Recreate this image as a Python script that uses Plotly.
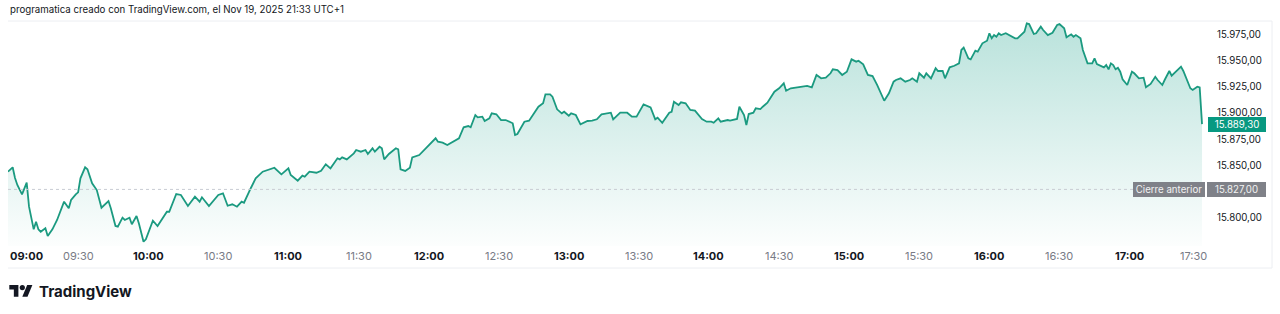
import plotly.graph_objects as go
import pandas as pd

# ---------------- data ----------------
session_date = "2025-11-19"
session_open = "09:00"
minutes_from_open = [
    0, 2, 3, 4, 6, 8, 9, 11, 12, 13, 14, 16, 17, 19, 21, 23, 24, 26, 27, 29,
    30, 31, 33, 34, 36, 38, 40, 43, 44, 46, 47, 49, 50, 52, 53, 55, 56, 58, 59, 62,
    64, 68, 69, 72, 74, 77, 80, 82, 83, 86, 90, 92, 94, 96, 98, 100, 101, 104, 106, 109,
    111, 113, 114, 117, 120, 121, 124, 126, 127, 129, 132, 134, 136, 138, 141, 142, 143, 145, 148, 149,
    151, 153, 154, 156, 157, 159, 160, 161, 163, 166, 167, 168, 170, 172, 173, 176, 178, 181, 183, 184,
    186, 188, 191, 193, 195, 197, 198, 200, 201, 203, 204, 206, 207, 209, 211, 213, 216, 217, 218, 221,
    223, 227, 229, 230, 232, 233, 235, 237, 238, 240, 241, 243, 245, 248, 250, 252, 254, 258, 259, 262,
    265, 267, 269, 272, 275, 277, 278, 280, 283, 284, 285, 287, 288, 290, 292, 294, 297, 299, 301, 302,
    304, 305, 308, 309, 312, 313, 315, 316, 317, 319, 320, 322, 323, 325, 328, 330, 332, 333, 335, 337,
    339, 342, 344, 346, 348, 350, 352, 353, 355, 357, 359, 361, 363, 364, 366, 368, 370, 372, 375, 377,
    379, 380, 382, 384, 386, 387, 389, 390, 392, 393, 395, 397, 398, 400, 401, 403, 405, 407, 408, 409,
    411, 412, 414, 415, 417, 419, 420, 421, 422, 423, 424, 425, 427, 429, 431, 432, 435, 436, 437, 439,
    440, 442, 443, 445, 447, 449, 450, 452, 453, 455, 456, 457, 459, 460, 462, 464, 465, 466, 468, 469,
    470, 471, 472, 473, 474, 475, 476, 477, 479, 480, 481, 482, 484, 486, 487, 489, 491, 492, 494, 495,
    497, 498, 500, 502, 503, 506, 507, 509, 510, 511,
]
prices = [
    15843.9, 15848.1, 15837.9, 15831.2, 15822.3, 15833.4, 15810.5, 15788.9, 15796.2, 15788.9,
    15786.6, 15789.9, 15782.5, 15788.9, 15797.8, 15810.5, 15815.3, 15809.0, 15816.9, 15822.3,
    15824.2, 15837.6, 15848.1, 15846.2, 15832.8, 15826.4, 15809.5, 15815.9, 15809.0, 15792.1,
    15791.4, 15800.0, 15797.8, 15800.0, 15793.7, 15801.6, 15794.7, 15777.1, 15779.4, 15797.1,
    15792.1, 15805.7, 15805.7, 15822.6, 15821.7, 15811.2, 15820.0, 15815.3, 15819.5, 15811.2,
    15821.7, 15823.3, 15811.4, 15812.8, 15810.5, 15815.3, 15814.3, 15828.6, 15837.6, 15843.9,
    15845.5, 15847.1, 15847.7, 15841.4, 15847.1, 15840.7, 15835.3, 15840.1, 15839.1, 15843.9,
    15842.9, 15844.8, 15851.0, 15847.1, 15856.7, 15855.7, 15857.6, 15855.7, 15861.4, 15864.6,
    15863.0, 15864.6, 15860.8, 15866.2, 15863.0, 15867.7, 15866.2, 15855.7, 15860.8, 15866.2,
    15865.3, 15846.2, 15844.6, 15847.7, 15857.6, 15859.8, 15864.6, 15871.0, 15875.8, 15872.5,
    15871.6, 15869.4, 15873.5, 15875.8, 15886.3, 15887.5, 15886.3, 15898.0, 15895.8, 15896.4,
    15892.3, 15894.8, 15899.6, 15898.7, 15893.2, 15893.2, 15890.1, 15878.9, 15879.9, 15891.6,
    15892.6, 15905.9, 15909.2, 15917.7, 15917.7, 15915.5, 15903.4, 15899.6, 15901.1, 15897.3,
    15899.6, 15898.0, 15889.1, 15892.3, 15892.6, 15893.9, 15898.7, 15900.2, 15893.9, 15900.2,
    15900.2, 15896.4, 15896.4, 15908.2, 15905.3, 15893.9, 15895.4, 15890.6, 15900.2, 15901.1,
    15910.7, 15907.5, 15910.1, 15909.2, 15902.8, 15902.1, 15894.2, 15891.6, 15891.6, 15890.6,
    15894.8, 15891.6, 15893.2, 15892.6, 15894.2, 15905.9, 15898.0, 15888.5, 15898.9, 15900.2,
    15904.4, 15903.7, 15905.9, 15909.7, 15920.2, 15923.5, 15928.2, 15921.2, 15923.5, 15924.0,
    15925.0, 15925.7, 15924.4, 15936.2, 15933.0, 15933.6, 15937.8, 15941.6, 15940.9, 15936.2,
    15939.3, 15951.1, 15948.9, 15949.8, 15946.4, 15936.2, 15935.2, 15926.6, 15911.6, 15918.7,
    15929.8, 15931.4, 15933.0, 15929.8, 15931.4, 15933.0, 15929.8, 15937.8, 15933.6, 15937.8,
    15933.0, 15942.6, 15940.0, 15940.0, 15933.0, 15943.5, 15945.0, 15947.3, 15960.0, 15962.4,
    15952.1, 15951.1, 15959.4, 15958.4, 15966.4, 15968.9, 15976.0, 15971.2, 15974.3, 15972.7,
    15976.0, 15974.3, 15976.0, 15973.7, 15971.2, 15971.2, 15977.5, 15985.5, 15984.8, 15975.3,
    15976.0, 15982.3, 15979.1, 15974.3, 15976.5, 15983.9, 15984.8, 15980.7, 15972.1, 15975.0,
    15972.7, 15974.3, 15971.2, 15960.0, 15947.3, 15947.3, 15952.1, 15946.7, 15944.8, 15943.5,
    15945.7, 15941.6, 15947.3, 15945.7, 15941.6, 15943.1, 15939.3, 15932.1, 15926.6, 15933.0,
    15939.3, 15937.8, 15933.0, 15933.6, 15924.4, 15927.6, 15934.5, 15931.4, 15926.6, 15931.4,
    15940.0, 15935.5, 15940.0, 15944.1, 15940.0, 15923.5, 15921.9, 15925.0, 15924.4, 15889.3,
]
prev_close = 15827.00
last_price = 15889.30
price_ticks = [15800, 15850, 15875, 15900, 15925, 15950, 15975]
time_ticks = ["09:00", "09:30", "10:00", "10:30", "11:00", "11:30", "12:00", "12:30",
              "13:00", "13:30", "14:00", "14:30", "15:00", "15:30", "16:00", "16:30",
              "17:00", "17:30"]
title_text = "programatica creado con TradingView.com, el Nov 19, 2025 21:33 UTC+1"
prev_close_label = "Cierre anterior"
brand_text = "TradingView"

# ---------------- layout helpers ----------------
W, H = 1280, 314
ML, MR, MT, MB = 8, 74, 21, 68
PW, PH = W - ML - MR, H - MT - MB
FONT = "Inter"
GREEN = "#089981"
DARK = "#131722"


def px(x):
    return (x - ML) / PW


def py(y):
    return (H - MB - y) / PH


def es(v):
    s = f"{v:,.2f}"
    return s.replace(",", "X").replace(".", ",").replace("X", ".")


t0 = pd.Timestamp(f"{session_date} {session_open}")
times = t0 + pd.to_timedelta(minutes_from_open, unit="m")
x_end = t0 + pd.Timedelta(minutes=512.7)
y_lo, y_hi = 15773.0, 15987.7

fig = go.Figure()
fig.add_trace(go.Scatter(x=times, y=[y_lo] * len(times), mode="lines",
                         line=dict(width=0, color="rgba(0,0,0,0)"),
                         hoverinfo="skip", showlegend=False))
fig.add_trace(go.Scatter(
    x=times, y=prices, mode="lines",
    line=dict(color="#1b9a80", width=1.8),
    fill="tonexty",
    fillgradient=dict(type="vertical",
                      colorscale=[[0, "rgba(8,153,129,0.01)"], [1, "rgba(8,153,129,0.28)"]],
                      start=y_lo, stop=max(prices)),
    showlegend=False,
))

ann = []
# title
ann.append(dict(text=title_text, xref="paper", yref="paper", x=px(8), y=py(10),
                xanchor="left", yanchor="middle", showarrow=False,
                font=dict(family=FONT, size=9.7, color=DARK)))
# time labels
n_t = len(time_ticks)
for i, t in enumerate(time_ticks):
    full = t.endswith(":00")
    a = dict(text=f"<b>{t}</b>" if full else t,
             xref="x", yref="paper", x=f"{session_date} {t}", y=py(256),
             xanchor="center", yanchor="middle", showarrow=False,
             font=dict(family=FONT, size=11, color=DARK if full else "#787b86"))
    if i == 0:
        a["xanchor"] = "left"
    if i == n_t - 1:
        a["xref"] = "paper"
        a["x"] = px(1209)
        a["xanchor"] = "right"
    ann.append(a)
# price labels
for v in price_ticks:
    ann.append(dict(text=es(v), xref="paper", yref="y", x=px(1215), y=v,
                    xanchor="left", yanchor="middle", showarrow=False,
                    font=dict(family=FONT, size=9.7, color=DARK)))
# last price box
ann.append(dict(text=es(last_price), xref="paper", yref="y", x=px(1208), y=last_price,
                xanchor="left", yanchor="middle", showarrow=False,
                width=54, height=11, borderpad=1, bgcolor=GREEN, bordercolor=GREEN,
                borderwidth=1, font=dict(family=FONT, size=9.7, color="#ffffff")))
# previous close boxes
ann.append(dict(text=prev_close_label, xref="paper", yref="y", x=px(1133), y=prev_close,
                xanchor="left", yanchor="middle", showarrow=False,
                width=68, height=11, borderpad=1, bgcolor="#7f8188", bordercolor="#7f8188",
                borderwidth=1, font=dict(family=FONT, size=9.7, color="#f2f2f2")))
ann.append(dict(text=es(prev_close), xref="paper", yref="y", x=px(1207), y=prev_close,
                xanchor="left", yanchor="middle", showarrow=False,
                width=55, height=11, borderpad=1, bgcolor="#7f8188", bordercolor="#7f8188",
                borderwidth=1, font=dict(family=FONT, size=9.7, color="#f2f2f2")))
# brand
ann.append(dict(text=f"<b>{brand_text}</b>", xref="paper", yref="paper", x=px(37), y=py(291),
                xanchor="left", yanchor="middle", showarrow=False,
                font=dict(family=FONT, size=15, color=DARK)))

shapes = []
frame = "#eceef2"
shapes.append(dict(type="line", xref="paper", yref="paper", x0=px(8), x1=px(1272),
                   y0=py(21), y1=py(21), line=dict(color=frame, width=1)))
shapes.append(dict(type="line", xref="paper", yref="paper", x0=px(8), x1=px(1272),
                   y0=py(268), y1=py(268), line=dict(color=frame, width=1)))
shapes.append(dict(type="line", xref="paper", yref="paper", x0=px(1272), x1=px(1272),
                   y0=py(21), y1=py(268), line=dict(color=frame, width=1)))
# previous close dotted line
shapes.append(dict(type="line", xref="paper", yref="y", x0=0, x1=px(1133),
                   y0=prev_close, y1=prev_close,
                   line=dict(color="#c9ccd3", width=1, dash="dot")))

# TradingView logo (36x28 unit glyph)
LX, LY, LS = 9.3, 282.4, 0.65


def lp(u, v):
    return f"{px(LX + u * LS):.5f},{py(LY + v * LS):.5f}"


p1 = "M" + " L".join(lp(u, v) for u, v in [(14, 22), (7, 22), (7, 11), (0, 11), (0, 4), (14, 4)]) + " Z"
p2 = "M" + " L".join(lp(u, v) for u, v in [(28, 22), (20, 22), (27.5, 4), (35.5, 4)]) + " Z"
for p in (p1, p2):
    shapes.append(dict(type="path", xref="paper", yref="paper", path=p,
                       fillcolor=DARK, line=dict(width=0)))
shapes.append(dict(type="circle", xref="paper", yref="paper",
                   x0=px(LX + 16 * LS), x1=px(LX + 24 * LS),
                   y0=py(LY + 12 * LS), y1=py(LY + 4 * LS),
                   fillcolor=DARK, line=dict(width=0)))

fig.update_layout(
    width=W, height=H,
    margin=dict(l=ML, r=MR, t=MT, b=MB, pad=0),
    paper_bgcolor="#ffffff", plot_bgcolor="#ffffff",
    showlegend=False,
    xaxis=dict(range=[t0, x_end], showgrid=False, zeroline=False, showline=False,
               showticklabels=False, ticks="", fixedrange=True),
    yaxis=dict(range=[y_lo, y_hi], showgrid=False, zeroline=False, showline=False,
               showticklabels=False, ticks="", fixedrange=True),
    annotations=ann,
    shapes=shapes,
    font=dict(family=FONT),
)

fig.write_html("out.html")
